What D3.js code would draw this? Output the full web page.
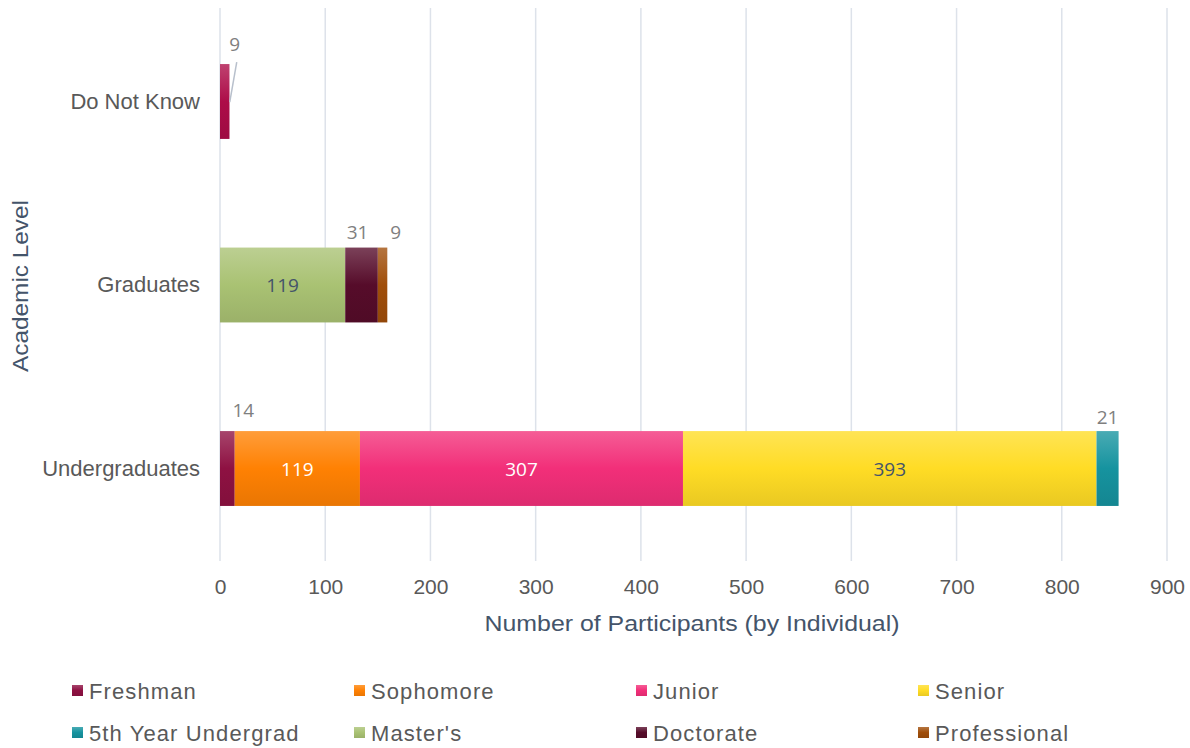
<!DOCTYPE html>
<html>
<head>
<meta charset="utf-8">
<script src="https://cdn.jsdelivr.net/npm/d3@7"></script>
<style>
  body { margin: 0; background: #fff; }
  svg { display: block; font-family: "Liberation Sans", Arial, sans-serif; }
</style>
</head>
<body>
<svg id="chart"></svg>
<script>
// categories top to bottom
let categories = ["Do Not Know", "Graduates", "Undergraduates"];

let seriesNames = ["Freshman", "Sophomore", "Junior", "Senior", "5th Year Undergrad",
  "Master's", "Doctorate", "Professional", "Unknown"];

// values per category (Do Not Know, Graduates, Undergraduates)
let freshman     = [0, 0, 14];
let sophomore    = [0, 0, 119];
let junior       = [0, 0, 307];
let senior       = [0, 0, 393];
let fifthYear    = [0, 0, 21];
let masters      = [0, 119, 0];
let doctorate    = [0, 31, 0];
let professional = [0, 9, 0];
let unknown      = [9, 0, 0];   // not in legend

let xTicks = [0, 100, 200, 300, 400, 500, 600, 700, 800, 900];

let seriesValues = [freshman, sophomore, junior, senior, fifthYear, masters, doctorate, professional, unknown];
let legendNames = seriesNames.slice(0, 8);

let width = 1190;
let height = 748;

let colors = {
  "Freshman": "#8e1142",
  "Sophomore": "#ff8103",
  "Junior": "#f22f79",
  "Senior": "#ffdc25",
  "5th Year Undergrad": "#16939f",
  "Master's": "#a9c273",
  "Doctorate": "#560c2a",
  "Professional": "#a04e0a",
  "Unknown": "#ad0d48"
};

// label colours for values drawn inside a bar
let insideLabelColor = {
  "Sophomore": "#ffffff",
  "Junior": "#ffffff",
  "Senior": "#44546a",
  "Master's": "#44546a"
};

let svg = d3.select('#chart')
  .attr('width', width)
  .attr('height', height);

// gradients, lighter at the top like the original
let defs = svg.append('defs');
seriesNames.forEach((name, i) => {
  let base = d3.color(colors[name]);
  let g = defs.append('linearGradient')
    .attr('id', 'grad' + i)
    .attr('x1', 0).attr('y1', 0).attr('x2', 0).attr('y2', 1);
  g.append('stop').attr('offset', '0%').attr('stop-color', d3.interpolateRgb(base, '#ffffff')(0.22));
  g.append('stop').attr('offset', '50%').attr('stop-color', base.formatHex());
  g.append('stop').attr('offset', '100%').attr('stop-color', base.darker(0.25).formatHex());
});

let xScale = d3.scaleLinear()
  .domain([0, 900])
  .range([220, 1167]);

let yScale = d3.scaleBand()
  .domain(categories)
  .range([9, 561])
  .paddingInner(0.592)
  .paddingOuter(0.3);

// gridlines
svg.append('g')
  .selectAll('line')
  .data(xTicks)
  .enter()
  .append('line')
  .attr('x1', d => xScale(d))
  .attr('x2', d => xScale(d))
  .attr('y1', 8)
  .attr('y2', 561)
  .attr('stroke', '#dde2ea')
  .attr('stroke-width', 1.5);

// x axis labels
let xAxis = d3.axisBottom(xScale)
  .tickValues(xTicks)
  .tickSize(0)
  .tickPadding(0);

let xg = svg.append('g')
  .attr('id', 'x-axis')
  .attr('transform', 'translate(0,' + 579 + ')')
  .call(xAxis);
xg.select('.domain').remove();
xg.selectAll('text')
  .attr('font-family', '"Liberation Sans", Arial, sans-serif')
  .attr('font-size', 21)
  .attr('fill', '#595959');

// y axis labels
let yAxis = d3.axisLeft(yScale).tickSize(0).tickPadding(0);
let yg = svg.append('g')
  .attr('id', 'y-axis')
  .attr('transform', 'translate(200,0)')
  .call(yAxis);
yg.select('.domain').remove();
yg.selectAll('text')
  .attr('font-family', '"Liberation Sans", Arial, sans-serif')
  .attr('font-size', 22)
  .attr('fill', '#595959');

// stacked bars
let rows = categories.map((c, ci) => {
  let row = { category: c };
  seriesNames.forEach((s, si) => { row[s] = seriesValues[si][ci]; });
  return row;
});

let stacked = d3.stack().keys(seriesNames)(rows);

let layers = svg.append('g')
  .selectAll('g')
  .data(stacked)
  .enter()
  .append('g')
  .attr('fill', (d, i) => 'url(#grad' + i + ')');

layers.selectAll('rect')
  .data(d => d.filter(p => p[1] - p[0] > 0))
  .enter()
  .append('rect')
  .attr('x', p => xScale(p[0]))
  .attr('y', p => yScale(p.data.category))
  .attr('width', p => xScale(p[1]) - xScale(p[0]))
  .attr('height', yScale.bandwidth());

// data labels
let labelNudge = {
  "Freshman": { dx: 16, dy: -21 },
  "Doctorate": { dx: -4, dy: -16 },
  "Professional": { dx: 13, dy: -16 },
  "5th Year Undergrad": { dx: 0, dy: -14 },
  "Unknown": { dx: 10, dy: -20 }
};

let labelGroup = svg.append('g')
  .attr('font-family', '"Open Sans", "Noto Sans", sans-serif')
  .attr('font-size', 19);

stacked.forEach(layer => {
  let name = layer.key;
  layer.filter(p => p[1] - p[0] > 0).forEach(p => {
    let v = p[1] - p[0];
    let cx = (xScale(p[0]) + xScale(p[1])) / 2;
    let top = yScale(p.data.category);
    if (insideLabelColor[name]) {
      labelGroup.append('text')
        .attr('x', cx)
        .attr('y', top + yScale.bandwidth() / 2)
        .attr('text-anchor', 'middle')
        .attr('dominant-baseline', 'central')
        .attr('fill', insideLabelColor[name])
        .text(v);
    } else {
      let n = labelNudge[name];
      let lx = cx + n.dx;
      let ly = top + n.dy;
      labelGroup.append('text')
        .attr('x', lx)
        .attr('y', ly)
        .attr('text-anchor', 'middle')
        .attr('dominant-baseline', 'central')
        .attr('fill', '#7f7f7f')
        .text(v);
      if (name === 'Unknown') {
        svg.append('line')
          .attr('x1', lx + 2)
          .attr('y1', ly + 18)
          .attr('x2', cx + 5)
          .attr('y2', top + 38)
          .attr('stroke', '#b8c0cc')
          .attr('stroke-width', 1.5);
      }
    }
  });
});

// axis titles
svg.append('text')
  .attr('x', 692)
  .attr('y', 623)
  .attr('text-anchor', 'middle')
  .attr('dominant-baseline', 'central')
  .attr('font-size', 22)
  .attr('fill', '#44546a')
  .attr('textLength', 415)
  .attr('lengthAdjust', 'spacingAndGlyphs')
  .text('Number of Participants (by Individual)');

svg.append('text')
  .attr('transform', 'translate(20,286) rotate(-90)')
  .attr('text-anchor', 'middle')
  .attr('dominant-baseline', 'central')
  .attr('font-size', 22)
  .attr('fill', '#44546a')
  .attr('textLength', 172)
  .attr('lengthAdjust', 'spacingAndGlyphs')
  .text('Academic Level');

// legend
let legend = svg.append('g');
let items = legend.selectAll('g')
  .data(legendNames)
  .enter()
  .append('g')
  .attr('transform', (d, i) => 'translate(' + (72 + (i % 4) * 282) + ',' + (691 + Math.floor(i / 4) * 42) + ')');

items.append('rect')
  .attr('x', 0)
  .attr('y', -6)
  .attr('width', 11)
  .attr('height', 11)
  .attr('fill', d => 'url(#grad' + seriesNames.indexOf(d) + ')');

items.append('text')
  .attr('x', 17)
  .attr('y', 0)
  .attr('dominant-baseline', 'central')
  .attr('font-size', 22)
  .attr('letter-spacing', 1.1)
  .attr('fill', '#595959')
  .text(d => d);
</script>
</body>
</html>
